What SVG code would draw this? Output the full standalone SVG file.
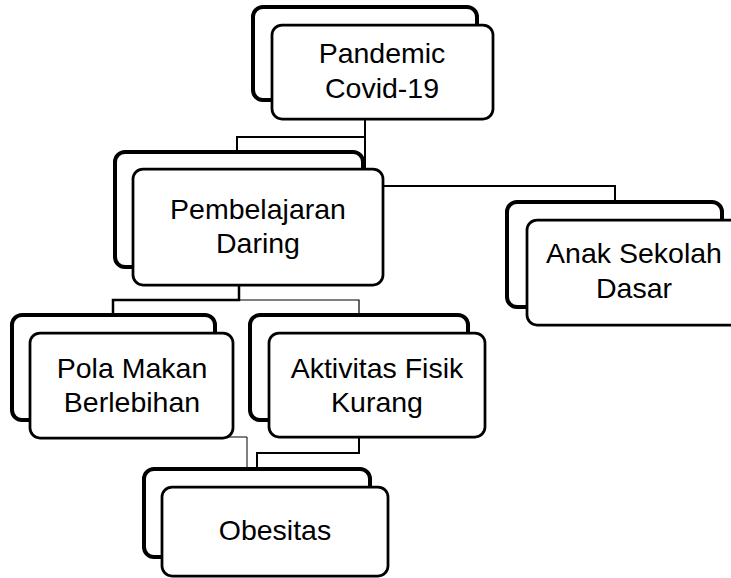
<svg xmlns="http://www.w3.org/2000/svg" width="731" height="578" viewBox="0 0 731 578">
<style>
.back{fill:#fff;stroke:#000;stroke-width:4}
.front{fill:#fff;stroke:#000;stroke-width:2.75}
.lbl{font-family:"Liberation Sans",Arial,sans-serif;font-size:28.5px;fill:#000;text-anchor:middle}
.c{fill:none;stroke:#000}
</style>
<rect width="731" height="578" fill="#fff"/>
<g id="connectors">
<path class="c" stroke-width="2" d="M365,119 V137 H237 V152"/>
<path class="c" stroke-width="2" d="M365,119 V186 H615 V203"/>
<path class="c" stroke-width="2.5" d="M239,285 V300 H113 V315"/>
<path class="c" stroke-width="1.2" d="M239,300 H359 V315"/>
<path class="c" stroke-width="1" d="M225,437 H247 V469"/>
<path class="c" stroke-width="2" d="M359,437 V453 H257 V469"/>
</g>
<g id="pandemic">
<rect class="back" x="253" y="7" width="224" height="93" rx="10"/>
<rect class="front" x="272" y="25" width="221" height="94" rx="10"/>
<text class="lbl" x="382" y="63">Pandemic</text>
<text class="lbl" x="382" y="98">Covid-19</text>
</g>
<g id="pembelajaran">
<rect class="back" x="115" y="152" width="248" height="115" rx="10"/>
<rect class="front" x="133" y="169" width="250" height="116" rx="10"/>
<text class="lbl" x="258" y="219">Pembelajaran</text>
<text class="lbl" x="258" y="253">Daring</text>
</g>
<g id="anak">
<rect class="back" x="507" y="202" width="215" height="105" rx="10"/>
<rect class="front" x="527" y="220" width="214" height="105" rx="10"/>
<text class="lbl" x="634" y="263">Anak Sekolah</text>
<text class="lbl" x="634" y="298">Dasar</text>
</g>
<g id="pola">
<rect class="back" x="12" y="315" width="203" height="105" rx="10"/>
<rect class="front" x="30" y="333" width="203" height="105" rx="10"/>
<text class="lbl" x="132" y="378">Pola Makan</text>
<text class="lbl" x="132" y="412">Berlebihan</text>
</g>
<g id="aktivitas">
<rect class="back" x="250" y="315" width="218" height="105" rx="10"/>
<rect class="front" x="269" y="333" width="216" height="104" rx="10"/>
<text class="lbl" x="377" y="378">Aktivitas Fisik</text>
<text class="lbl" x="377" y="412">Kurang</text>
</g>
<g id="obesitas">
<rect class="back" x="144" y="469" width="226" height="88" rx="10"/>
<rect class="front" x="162" y="487" width="226" height="89" rx="10"/>
<text class="lbl" x="275" y="540">Obesitas</text>
</g>
</svg>
